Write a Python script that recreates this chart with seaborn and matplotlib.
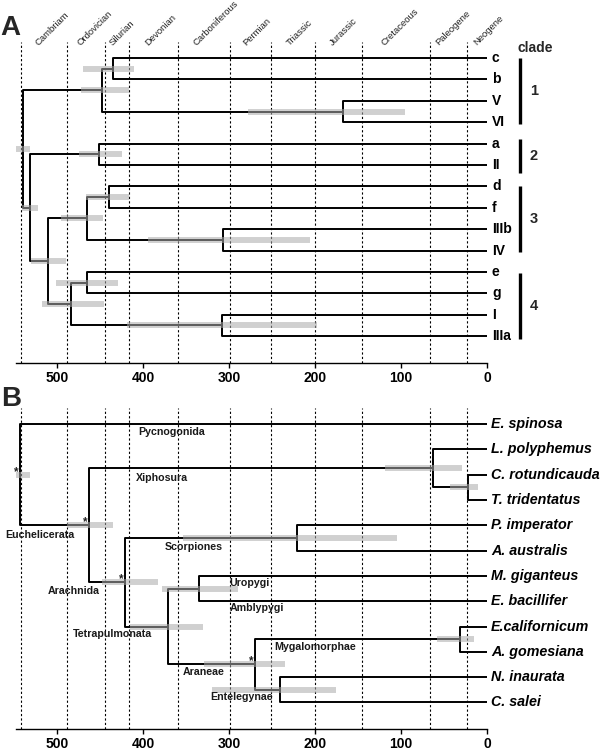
import numpy as np
import pandas as pd
import matplotlib
matplotlib.use("Agg")
import matplotlib.pyplot as plt
import matplotlib.transforms as mtransforms
import seaborn as sns

# ---------------- data ----------------
period_names = ['Cambriam', 'Ordovician', 'Silurian', 'Devonian', 'Carboniferous',
                'Permian', 'Triassic', 'Jurassic', 'Cretaceous', 'Paleogene', 'Neogene']
period_starts = [542, 488, 444, 416, 359, 299, 251, 200, 145, 66, 23]
period_label_x = [522, 473, 435, 394, 338, 280, 229, 179, 119, 56, 12]

age_ticks = [500, 400, 300, 200, 100, 0]

# Panel A tree
tips_A = ['c', 'b', 'V', 'VI', 'a', 'II', 'd', 'f', 'IIIb', 'IV', 'e', 'g', 'I', 'IIIa']
nodeA_names = ['cb', 'V_VI', 'cl1', 'a_II', 'df', 'IIIb_IV', 'cl3', 'eg', 'I_IIIa',
               'cl4', 'cl34', 'cl234', 'rootA']
nodeA_child1 = ['c', 'V', 'cb', 'a', 'd', 'IIIb', 'df', 'e', 'I', 'eg', 'cl3', 'a_II', 'cl1']
nodeA_child2 = ['b', 'VI', 'V_VI', 'II', 'f', 'IV', 'IIIb_IV', 'g', 'IIIa', 'I_IIIa',
                'cl4', 'cl34', 'cl234']
nodeA_age = [435, 167, 448, 451, 440, 307, 465, 465, 308, 484, 510, 531, 539.5]
nodeA_hpd_old = [470, 278, 472, 474, 466, 394, 495, 501, 419, 518, 530, 541, 552]
nodeA_hpd_young = [410, 95, 416, 424, 416, 206, 447, 429, 198, 445, 490, 522, 531]

clade_ids = ['1', '2', '3', '4']
clade_first = ['c', 'a', 'd', 'e']
clade_last = ['VI', 'II', 'IV', 'IIIa']

# Panel B tree
tips_B = ['E. spinosa', 'L. polyphemus', 'C. rotundicauda', 'T. tridentatus',
          'P. imperator', 'A. australis', 'M. giganteus', 'E. bacillifer',
          'E.californicum', 'A. gomesiana', 'N. inaurata', 'C. salei']
nodeB_names = ['CT', 'Xipho', 'Scorp', 'UA', 'Myg', 'Ent', 'Aran', 'Tetra', 'Arach',
               'Euch', 'rootB']
nodeB_child1 = ['C. rotundicauda', 'L. polyphemus', 'P. imperator', 'M. giganteus',
                'E.californicum', 'N. inaurata', 'Myg', 'UA', 'Scorp', 'Xipho', 'E. spinosa']
nodeB_child2 = ['T. tridentatus', 'CT', 'A. australis', 'E. bacillifer', 'A. gomesiana',
                'C. salei', 'Ent', 'Aran', 'Tetra', 'Arach', 'Euch']
nodeB_age = [22.5, 63, 221, 335, 31, 241, 270, 371, 421, 463, 543]
nodeB_hpd_old = [43, 119, 353, 378, 58.5, 320, 329, 415, 448, 488, 551]
nodeB_hpd_young = [11, 29, 105, 290, 15, 176, 235, 330, 383, 435, 531]
nodeB_starred = ['rootB', 'Euch', 'Arach', 'Aran']

group_names = ['Pycnogonida', 'Xiphosura', 'Euchelicerata', 'Scorpiones', 'Arachnida',
               'Uropygi', 'Amblypygi', 'Tetrapulmonata', 'Mygalomorphae', 'Araneae',
               'Entelegynae']
group_label_x = [367, 378, 520, 341, 481, 276, 268, 435.5, 200, 330, 285.5]
group_label_y = [0.30, 2.12, 4.37, 4.87, 6.60, 6.26, 7.28, 8.31, 8.79, 9.78, 10.80]

# ---------------- style / layout ----------------
sns.set_theme(style="white")
plt.rcParams['font.family'] = ['Liberation Sans', 'DejaVu Sans']

W, H = 600, 750
fig = plt.figure(figsize=(6, 7.5), dpi=100)

def frac_box(left_px, top_px, right_px, bottom_px):
    return [left_px / W, 1 - bottom_px / H, (right_px - left_px) / W, (bottom_px - top_px) / H]

axA = fig.add_axes(frac_box(16, 42, 487, 363))
axB = fig.add_axes(frac_box(16, 408, 487, 729))
XLIM = (547.7, 0)

clade_pad_top = [0.0, 0.21, 0.0, -0.04]
clade_pad_bot = [0.09, 0.38, 0.09, 0.14]

BAR_COLOR = '#aaaaaa'


def tree_layout(tips, names, c1, c2, ages):
    y = {t: float(i) for i, t in enumerate(tips)}
    x = {t: 0.0 for t in tips}
    for n, a, b, age in zip(names, c1, c2, ages):
        y[n] = (y[a] + y[b]) / 2
        x[n] = age
    return x, y


def draw_tree(ax, tips, names, c1, c2, ages, hold, hyoung, lw):
    x, y = tree_layout(tips, names, c1, c2, ages)
    rows = []
    for k, (n, a, b, age) in enumerate(zip(names, c1, c2, ages)):
        pts = [(x[a], y[a]), (age, y[a]), (age, y[b]), (x[b], y[b])]
        for j, (px, py) in enumerate(pts):
            rows.append(dict(seg=k, order=j, x=px, y=py))
    seg_df = pd.DataFrame(rows)
    sns.lineplot(data=seg_df, x='x', y='y', units='seg', estimator=None, sort=False,
                 color='black', linewidth=lw, legend=False, ax=ax, zorder=2)
    brow = []
    for k, (n, o, yg) in enumerate(zip(names, hold, hyoung)):
        brow.append(dict(seg=k, x=o, y=y[n]))
        brow.append(dict(seg=k, x=yg, y=y[n]))
    bar_df = pd.DataFrame(brow)
    sns.lineplot(data=bar_df, x='x', y='y', units='seg', estimator=None, sort=False,
                 color=BAR_COLOR, alpha=0.55, linewidth=4.3, solid_capstyle='butt',
                 legend=False, ax=ax, zorder=3)
    return x, y


def style_axis(ax, ylim):
    ax.set_xlim(*XLIM)
    ax.set_ylim(*ylim)
    for s in ['top', 'left', 'right']:
        ax.spines[s].set_visible(False)
    ax.spines['bottom'].set_color('black')
    ax.spines['bottom'].set_linewidth(1.0)
    ax.set_yticks([])
    ax.set_xticks(age_ticks)
    ax.set_xticklabels([str(t) for t in age_ticks])
    ax.tick_params(axis='x', direction='out', length=3.5, width=1.0, color='black',
                   pad=2, labelsize=10, bottom=True)
    for lab in ax.get_xticklabels():
        lab.set_fontweight('bold')
        lab.set_color('black')
    ax.set_xlabel('')
    ax.set_ylabel('')
    for p in period_starts:
        ax.axvline(p, color='black', lw=0.8, ls=(0, (2, 2)), zorder=1)


# ---------------- Panel A ----------------
xA, yA = draw_tree(axA, tips_A, nodeA_names, nodeA_child1, nodeA_child2, nodeA_age,
                   nodeA_hpd_old, nodeA_hpd_young, lw=1.4)
style_axis(axA, (14.26, -0.75))

tipoffA = mtransforms.offset_copy(axA.transData, fig=fig, x=5, y=0, units='dots')
for t in tips_A:
    axA.text(0, yA[t], t, transform=tipoffA, ha='left', va='center',
             fontsize=10, fontweight='bold', color='black', clip_on=False)

for cid, f, l, pt, pb in zip(clade_ids, clade_first, clade_last, clade_pad_top, clade_pad_bot):
    y0 = yA[f] - pt
    y1 = yA[l] + pb
    axA.plot([-38.4, -38.4], [y0, y1], color='black', lw=2.4, solid_capstyle='butt',
             clip_on=False)
    axA.text(-54.7, (y0 + y1) / 2, cid, ha='center', va='center', fontsize=10.5,
             fontweight='bold', clip_on=False)
axA.text(-56, -0.48, 'clade', ha='center', va='center', fontsize=10,
         fontweight='bold', clip_on=False)

lab_trans = mtransforms.blended_transform_factory(axA.transData, axA.transAxes)
for name, px in zip(period_names, period_label_x):
    axA.text(px, 1 - 4.0 / 321, name, transform=lab_trans, rotation=45,
             rotation_mode='anchor', ha='left', va='baseline', fontsize=6.8,
             color='#222222', clip_on=False)

# ---------------- Panel B ----------------
xB, yB = draw_tree(axB, tips_B, nodeB_names, nodeB_child1, nodeB_child2, nodeB_age,
                   nodeB_hpd_old, nodeB_hpd_young, lw=1.4)
style_axis(axB, (12.05, -0.64))

tipoffB = mtransforms.offset_copy(axB.transData, fig=fig, x=4, y=0, units='dots')
for t in tips_B:
    axB.text(0, yB[t], t, transform=tipoffB, ha='left', va='center',
             fontsize=10.3, fontweight='bold', fontstyle='italic', color='black',
             clip_on=False)

staroff = mtransforms.offset_copy(axB.transData, fig=fig, x=-4, y=0, units='dots')
for n in nodeB_starred:
    axB.text(xB[n], yB[n], '*', transform=staroff, ha='center', va='baseline',
             fontsize=8.5, fontweight='bold', color='#222222', zorder=5)

for name, gx, gy in zip(group_names, group_label_x, group_label_y):
    axB.text(gx, gy, name, ha='center', va='center', fontsize=7.7,
             fontweight='bold', color='#1a1a1a', zorder=6)

# panel letters
fig.text(0.0, 1 - 35 / H, 'A', fontsize=20, fontweight='bold', ha='left', va='baseline')
fig.text(1 / W, 1 - 406 / H, 'B', fontsize=20, fontweight='bold', ha='left', va='baseline')

fig.savefig('out.png', dpi=100)
